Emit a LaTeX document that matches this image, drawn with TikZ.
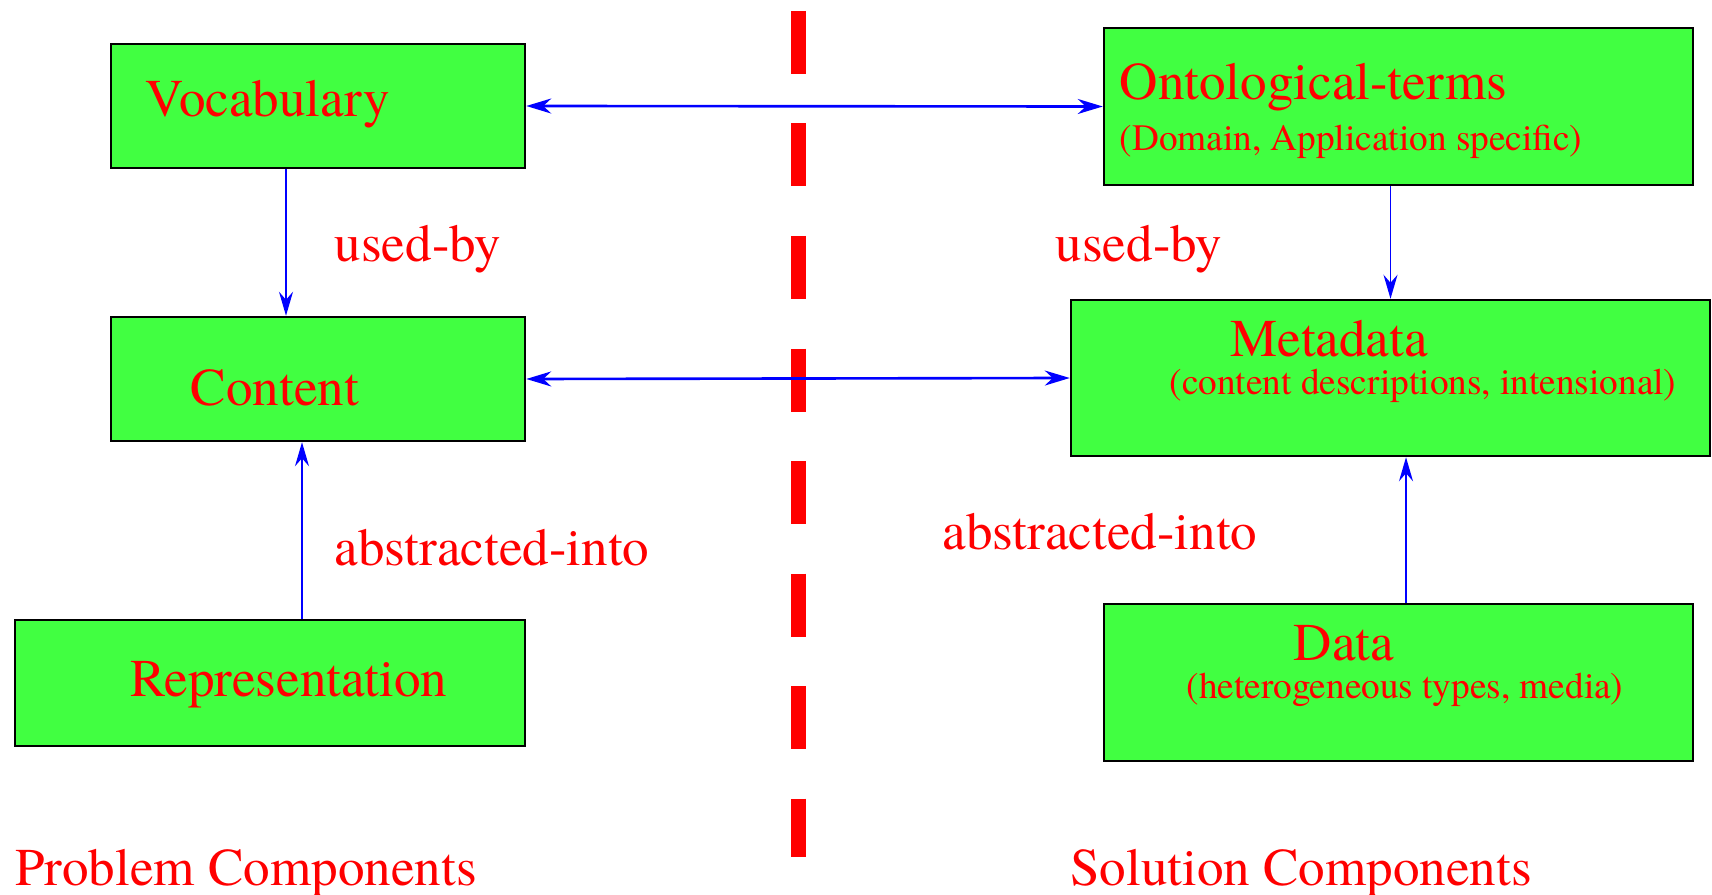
\documentclass[tikz,border=0pt]{standalone}
\usepackage{fontspec}
\setmainfont{texgyretermes}[Extension=.otf,UprightFont=*-regular]
\usepackage{tikz}
\usetikzlibrary{arrows.meta}

\definecolor{boxgreen}{RGB}{65,255,65}

\tikzset{
  compbox/.style={draw=black,line width=0.7pt,fill=boxgreen,rectangle,inner sep=0pt},
  bigtxt/.style={text=red,inner sep=0pt,font=\fontsize{15.1}{18}\selectfont},
  smalltxt/.style={text=red,inner sep=0pt,font=\fontsize{10.6}{13}\selectfont},
  hlink/.style={blue,line width=0.75pt,{Stealth[length=2.5mm,width=1.5mm,inset=0.8mm]}-{Stealth[length=2.5mm,width=1.5mm,inset=0.8mm]}},
  vlink/.style={blue,line width=0.5pt,-{Stealth[length=2.4mm,width=1.4mm,inset=0.8mm]}}
}

\begin{document}
\begin{tikzpicture}
\useasboundingbox (0,0) rectangle (17.12,-8.95);
% divider
\draw[red,line width=0.15cm,dash pattern=on 0.63cm off 0.495cm](7.98,-0.11)--(7.98,-8.57);
% boxes
\node[compbox,minimum width=4.14cm,minimum height=1.24cm] (voc) at (3.18,-1.06) {};
\node[compbox,minimum width=5.89cm,minimum height=1.57cm] (onto) at (13.985,-1.065) {};
\node[compbox,minimum width=4.14cm,minimum height=1.24cm] (cont) at (3.18,-3.79) {};
\node[compbox,minimum width=6.39cm,minimum height=1.56cm] (meta) at (13.905,-3.78) {};
\node[compbox,minimum width=5.10cm,minimum height=1.26cm] (rep) at (2.70,-6.83) {};
\node[compbox,minimum width=5.89cm,minimum height=1.57cm] (data) at (13.985,-6.825) {};
% box texts
\node[bigtxt,anchor=west] (vocT) at (1.45,-1.045) {Vocabulary};
\node[bigtxt] (contT) at (2.75,-3.88) {Content};
\node[bigtxt] (repT) at (2.89,-6.845) {Representation};
\node[bigtxt,anchor=west] (ontoT) at (11.19,-0.875) {Ontological-terms};
\node[smalltxt,anchor=west] (ontoS) at (11.19,-1.415) {(Domain, Application specific)};
\node[bigtxt] (metaT) at (13.29,-3.39) {Metadata};
\node[smalltxt] (metaS) at (14.23,-3.855) {(content descriptions, intensional)};
\node[bigtxt] (dataT) at (13.44,-6.43) {Data};
\node[smalltxt] (dataS) at (14.05,-6.895) {(heterogeneous types, media)};
% links
\draw[hlink] (voc.east)--(onto.west);
\draw[hlink] (cont.east)--(meta.west);
\draw[vlink] ([xshift=-0.32cm]voc.south)--([xshift=-0.32cm]cont.north);
\draw[vlink] (onto.south -| meta.north)--(meta.north);
\draw[vlink] ([xshift=-0.16cm]cont.south |- rep.north)--([xshift=-0.16cm]cont.south);
\draw[vlink] ([xshift=0.155cm]meta.south |- data.north)--([xshift=0.155cm]meta.south);
% labels
\node[bigtxt] (usedL) at (4.18,-2.495) {used-by};
\node[bigtxt] (usedR) at (11.39,-2.495) {used-by};
\node[bigtxt] (absL) at (4.92,-5.48) {abstracted-into};
\node[bigtxt] (absR) at (11.00,-5.32) {abstracted-into};
\node[bigtxt] (probT) at (2.46,-8.735) {Problem Components};
\node[bigtxt] (solT) at (13.01,-8.735) {Solution Components};
\end{tikzpicture}
\end{document}
